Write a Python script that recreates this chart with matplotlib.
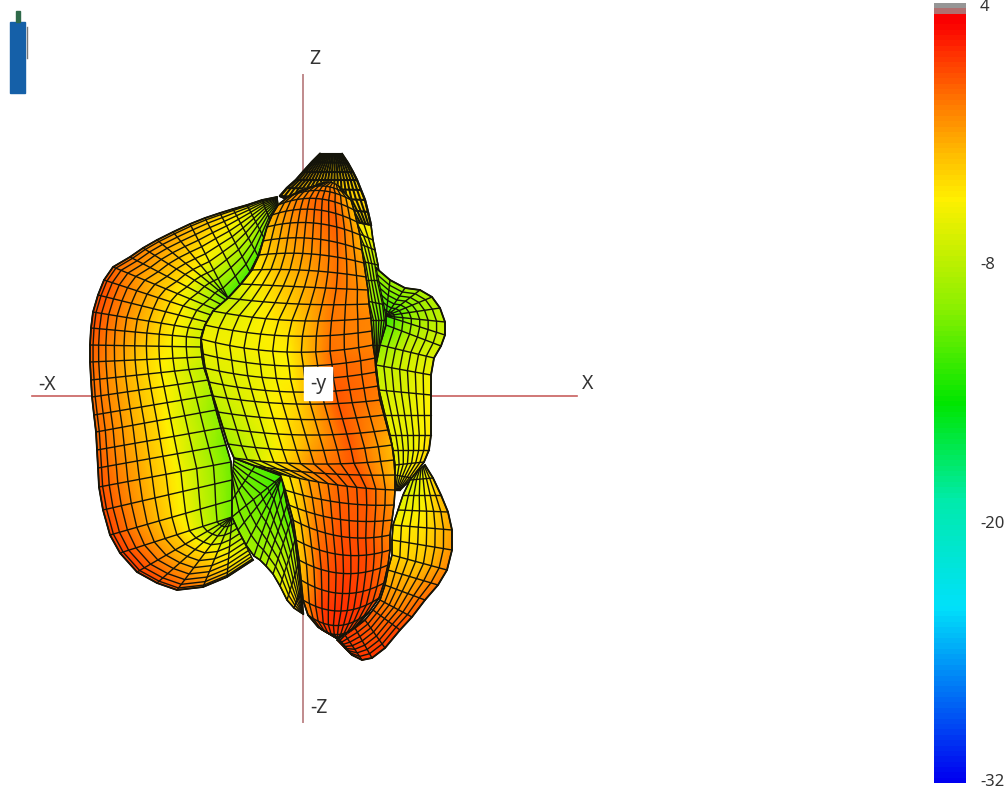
import numpy as np
import matplotlib
matplotlib.use('Agg')
import matplotlib.pyplot as plt
from matplotlib.colors import LinearSegmentedColormap
from matplotlib.patches import Rectangle

plt.rcParams['font.family'] = ['Noto Sans', 'DejaVu Sans']

# colour scale of the gain bar, dB
scale_gain = [-32, -24, -19, -14.5, -10, -5, -3, -0.5, 2, 3.2, 3.7, 3.8, 4.2]
scale_rgb = [(0, 0, 240), (0, 225, 250), (0, 235, 170), (0, 230, 0), (140, 240, 0), (255, 240, 0),
             (255, 190, 0), (255, 120, 0), (255, 40, 0), (250, 0, 0), (250, 0, 0), (150, 150, 150), (150, 150, 150)]
bar_ticks = [4, -8, -20, -32]

# crest tip, almost black in the picture
tip_ax = [320, 312, 303, 296, 287, 280, 300, 320]
tip_ay = [154, 162, 172, 180, 188, 196, 205, 215]
tip_bx = [342, 348, 353, 357, 361, 365, 368, 371]
tip_by = [154, 163, 172, 180, 190, 200, 212, 225]
tip_g0 = [-4, -4, -3, -3, -3, -3, -3, -3]
tip_g1 = [-5, -5, -4, -4, -4, -4, -4, -5]

# crest going down behind the main lobe
crest_ax = [320, 340, 350, 356, 360, 362, 368, 372, 375]
crest_ay = [215, 225, 240, 260, 280, 300, 320, 345, 365]
crest_bx = [371, 373, 375, 378, 380, 386, 387, 382, 378]
crest_by = [225, 240, 250, 265, 280, 305, 320, 345, 365]
crest_g0 = [-3, -4, -5, -6, -7, -8, -9, -9, -9]
crest_g1 = [-5, -6, -7, -9, -10, -11, -12, -12, -12]

# upper right bump
bump_ax = [376, 390, 405, 420, 432, 440, 445, 445, 441, 434, 431, 431, 431, 431, 429, 424, 412, 400]
bump_ay = [268, 280, 288, 290, 297, 308, 322, 335, 346, 358, 375, 395, 415, 435, 450, 462, 478, 490]
bump_bx = [386, 386, 386, 386, 386, 386, 386, 386, 386, 380, 376, 379, 385, 390, 393, 395, 395, 395]
bump_by = [316, 316, 316, 316, 316, 316, 316, 316, 325, 345, 365, 390, 415, 435, 450, 465, 475, 490]
bump_g0 = [-9, -9, -9, -8.5, -8, -8, -7.5, -7, -7, -6.5, -5.5, -5, -5, -4.5, -4, -4, -4, -4]
bump_g1 = [-11, -11, -11, -10, -10, -9.5, -9, -8.5, -8, -7, -7, -6.5, -6, -6, -6, -5.5, -5, -5]
bump_g2 = [-13, -13, -13, -13, -13, -13, -13, -13, -12, -10, -8, -7, -6, -6, -6, -6, -6, -6]

# lower right lobe
low_ax = [425, 433, 441, 448, 452, 452, 447, 438, 425, 412, 400, 385, 372, 362, 352, 345]
low_ay = [465, 478, 495, 512, 530, 550, 570, 585, 600, 617, 630, 648, 658, 660, 655, 648]
low_bx = [418, 410, 403, 398, 393, 392, 392, 388, 385, 380, 373, 365, 355, 345, 340, 337]
low_by = [470, 480, 495, 510, 525, 540, 555, 570, 585, 600, 610, 620, 628, 635, 640, 640]
low_g0 = [-5, -4, -3, -2.5, -2, -1.5, -1, -0.5, 0, 0.5, 1, 1.5, 1.5, 1.5, 1, 1]
low_g1 = [-6, -6, -5.5, -5, -4.5, -4, -3.5, -2.5, -2, -1, 0, 0.5, 1, 1.5, 1.5, 1.5]
low_g2 = [-6, -7, -6.5, -6, -5, -4.5, -4, -3, -2, -1, 0, 0.5, 1, 1.5, 1.5, 1.5]

# big left lobe: outer rim and the crease it folds into
left_ax = [277, 262, 247, 233, 220, 205, 190, 173, 157, 143, 130, 113, 104, 98, 93, 91, 90,
           90, 91, 92, 94, 96, 97, 98, 99, 103, 110, 120, 137, 157, 177, 203, 227, 253]
left_ay = [197, 200, 205, 209, 213, 218, 224, 232, 240, 248, 257, 267, 280, 295, 312, 328, 345,
           362, 380, 397, 415, 432, 450, 468, 487, 510, 535, 553, 572, 583, 590, 587, 577, 560]
left_bx = [278, 270, 264, 258, 250, 240, 228, 228, 228, 226, 222, 217, 211, 207, 203, 201, 201,
           202, 204, 208, 212, 216, 221, 226, 231, 232, 232, 232, 232, 232, 232, 232, 232, 232]
left_by = [205, 220, 238, 256, 272, 285, 298, 298, 298, 300, 305, 310, 315, 322, 330, 338, 347,
           357, 368, 380, 395, 410, 428, 445, 462, 480, 500, 517, 517, 517, 517, 517, 517, 517]
left_g0 = [-7, -6, -5, -4, -3.5, -3, -2.5, -2, -1.5, -1, -0.5, 0, 0.8, 1, 1, 0.8, 0.5,
           0.3, 0, 0, 0, 0, 0.2, 0.5, 0.8, 1, 1.2, 1.5, 1.5, 1, 0.5, -1, -3, -5]
left_g1 = [-8, -8, -8, -7, -7, -6, -5.5, -5, -4.5, -4, -4, -3.5, -3, -3, -3, -3, -3.5,
           -4, -4, -4, -4, -4, -4, -4, -4, -4, -4, -3.5, -3.5, -4, -4, -5, -6, -8]
left_g2 = [-9, -10, -11, -12, -12, -12, -12, -12, -12, -11, -10, -9, -8, -7, -7, -7, -7,
           -7, -8, -8, -9, -10, -10, -11, -11, -11, -11, -11, -11, -11, -11, -11, -11, -11]

# green wedge under the crease
wedge_ax = [234, 255, 282, 282, 282, 282, 284, 287, 291, 295, 298, 301, 303]
wedge_ay = [458, 466, 476, 476, 476, 476, 490, 505, 520, 540, 565, 590, 612]
wedge_bx = [232, 232, 232, 238, 246, 254, 260, 266, 273, 280, 287, 294, 303]
wedge_by = [480, 500, 517, 530, 545, 556, 560, 566, 574, 586, 600, 608, 614]
wedge_g0 = [-10, -11, -13, -13, -13, -13, -12, -12, -12, -10, -7, -5, -4]
wedge_g1 = [-10, -11, -11, -11, -11, -11, -10, -10, -9, -8, -6, -4, -3]
wedge_g2 = [-10, -10, -10, -10, -9, -9, -9, -8, -7, -6, -4, -3, -3]

# middle and main lobe in front
front_ax = [318, 300, 288, 278, 272, 267, 263, 259, 252, 241, 228, 213, 205, 201, 203, 205, 209,
            213, 218, 223, 228, 234, 255, 280, 285, 289, 293, 296, 299, 301, 303, 308, 318, 336]
front_ay = [185, 191, 197, 205, 215, 227, 241, 255, 270, 284, 298, 311, 325, 339, 354, 368, 382,
            396, 412, 428, 444, 458, 466, 474, 490, 505, 520, 540, 560, 580, 600, 615, 627, 638]
front_bx = [340, 345, 351, 354, 357, 360, 362, 364, 366, 368, 369, 371, 372, 373, 375, 376, 378,
            380, 384, 388, 392, 394, 395, 395, 394, 392, 390, 390, 388, 384, 379, 369, 357, 339]
front_by = [187, 193, 200, 210, 222, 235, 250, 263, 277, 290, 304, 318, 331, 345, 358, 372, 386,
            400, 415, 430, 445, 460, 475, 490, 505, 520, 535, 550, 565, 583, 598, 612, 626, 638]
front_sag = [-4, -6, -8, -9, -9, -8, -7, -5, -3, 0, 3, 6, 8, 10, 10, 9, 8,
             6, 6, 6, 6, 5, 3, 3, 5, 7, 9, 10, 11, 12, 12, 12, 8, 0]
front_g0 = [-4, -3, -2.5, -2, -2.5, -3, -3.5, -4, -5, -6, -8, -7, -6, -5.5, -6, -6.5, -7,
            -7.5, -8, -8.5, -9, -9, -8, -6, -5.5, -5, -4.5, -4, -3.5, -3, -1.5, -1, 0, 1]
front_g1 = [-3, -2, -1.5, -1, -1, -1.5, -2, -2.5, -3, -4, -5, -5.5, -5.5, -5.5, -6, -6, -6,
            -6, -6, -6, -6, -5, -3, -2, -1.5, -1, -0.5, 0, 0.5, 0.8, 1.5, 1.5, 1.5, 1.5]
front_g2 = [-2, -1, -0.5, 0, 0, -0.5, -1, -1.5, -2, -2.5, -3, -4, -4.5, -5, -5, -5, -4.5,
            -4, -3.5, -3, -2, -1, 0, 0, 0.3, 0.5, 0.8, 1, 1.3, 1.5, 1.8, 1.8, 1.5, 1.5]
front_g3 = [-2, -1, -0.3, 0, 0.3, 0.3, 0, -0.3, -0.3, -0.3, -0.5, -0.5, -0.5, -0.3, 0, 0.3, 0.5,
            0.5, 0.5, 0.5, 0.5, 0.5, 0.5, 0.5, 0.5, 0.5, 0.8, 1, 1, 1.2, 1.5, 1.5, 1, 1]
front_g4 = [-4, -4, -3.5, -3, -3, -2.5, -2.5, -2, -2, -1.5, -1.5, -1, -1, -1, -0.5, -0.5, -0.5,
            -0.8, -1.5, -2, -3, -3, -3, -2, -1.5, -1, -1, -0.5, -0.5, 0, 0.5, 0.5, 1, 1]

cmap = LinearSegmentedColormap.from_list(
    'gain', [((g + 32) / 36.2, tuple(c / 255 for c in rgb)) for g, rgb in zip(scale_gain, scale_rgb)], N=512)
WIRE = '#14140a'


def lobe(ax, ax_, ay, bx, by, gains, n_wires, power=1.0, sag=None, z=2, lw=1.0):
    # surface ruled between edge a and edge b, wires across and along it
    ax_, ay, bx, by = [np.array(v, float) for v in (ax_, ay, bx, by)]
    stops = np.linspace(0, 1, len(gains))
    gains = np.array(gains, float)
    u = np.linspace(0, 1, 25)
    wires = np.linspace(0, 1, n_wires) ** power
    sag = np.zeros(len(ax_)) if sag is None else np.array(sag, float)

    def pos(t):
        x = ax_[:, None] + (bx - ax_)[:, None] * t
        y = ay[:, None] + (by - ay)[:, None] * t + sag[:, None] * 4 * t * (1 - t)
        return x, y

    X, Y = pos(u)
    C = np.array([np.interp(u, stops, gains[:, i]) for i in range(len(ax_))])
    ax.pcolormesh(X, Y, C, shading='gouraud', cmap=cmap, vmin=-32, vmax=4.2, zorder=z)
    WX, WY = pos(wires)
    ax.plot(WX, WY, color=WIRE, lw=lw, zorder=z, solid_capstyle='round')
    ax.plot(X.T, Y.T, color=WIRE, lw=lw, zorder=z, solid_capstyle='round')
    ax.plot(ax_, ay, color=WIRE, lw=lw + 0.3, zorder=z)
    ax.plot(bx, by, color=WIRE, lw=lw + 0.1, zorder=z)


fig = plt.figure(figsize=(10.08, 7.95), dpi=100)
ax = fig.add_axes([0, 0, 1, 1])
ax.set_xlim(0, 1008)
ax.set_ylim(795, 0)
ax.axis('off')

# axes of the pattern
ax.plot([32, 577], [396, 396], color='#c8605f', lw=1.2, zorder=1)
ax.plot([303, 303], [75, 722], color='#c08a8c', lw=1.4, zorder=1)

lobe(ax, crest_ax, crest_ay, crest_bx, crest_by, [crest_g0, crest_g1], 8, z=2, lw=1.0)
lobe(ax, tip_ax, tip_ay, tip_bx, tip_by, [tip_g0, tip_g1], 20, z=2.05, lw=1.5)
lobe(ax, bump_ax, bump_ay, bump_bx, bump_by, [bump_g0, bump_g1, bump_g2], 8, z=2.1)
lobe(ax, low_ax, low_ay, low_bx, low_by, [low_g0, low_g1, low_g2], 8, z=2.2)
lobe(ax, left_ax, left_ay, left_bx, left_by, [left_g0, left_g1, left_g2], 12, power=1.5, z=2.3)
lobe(ax, wedge_ax, wedge_ay, wedge_bx, wedge_by, [wedge_g0, wedge_g1, wedge_g2], 8, z=2.4)
lobe(ax, front_ax, front_ay, front_bx, front_by, [front_g0, front_g1, front_g2, front_g3, front_g4],
     13, sag=front_sag, z=2.5)

# labels
lab = dict(fontsize=14, color='#333333', ha='center', va='center', zorder=6)
ax.text(47, 385, '-X', **lab)
ax.text(588, 384, 'X', **lab)
ax.text(315, 59, 'Z', **lab)
ax.text(319, 708, '-Z', **lab)
ax.add_patch(Rectangle((304, 367), 28, 33, color='white', zorder=5))
ax.text(318, 384, '-y', **lab)

# window icon top left
ax.add_patch(Rectangle((10, 22), 15, 71, color='#1560a8', zorder=3))
ax.add_patch(Rectangle((16, 11), 4, 11, color='#2f6a4a', zorder=3))
ax.plot([26.5, 26.5], [27, 58], color='#777777', lw=1, zorder=3)

# gain bar
cax = fig.add_axes([934 / 1008, 1 - 783 / 795, 32 / 1008, 780 / 795])
levels = np.arange(-32.15, 4.2, 0.25)
cax.pcolormesh([0, 1], levels, np.array([(levels[:-1] + levels[1:]) / 2]).T, cmap=cmap, vmin=-32, vmax=4.2)
cax.set_ylim(-32.14, 4.09)
cax.set_xticks([])
cax.yaxis.tick_right()
cax.set_yticks(bar_ticks)
cax.set_yticklabels([str(t) for t in bar_ticks], ha='left')
cax.tick_params(axis='y', length=0, pad=10, labelsize=12, labelcolor='#333333')
for s in cax.spines.values():
    s.set_visible(False)

fig.savefig('out.png', dpi=100)
